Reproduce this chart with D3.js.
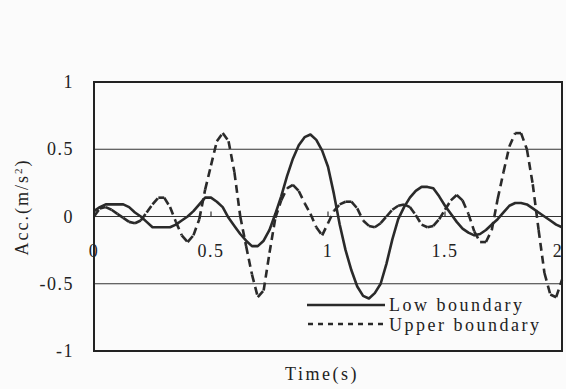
<!DOCTYPE html>
<html>
<head>
<meta charset="utf-8">
<script src="https://cdn.jsdelivr.net/npm/d3@7"></script>
<style>
  body { margin: 0; background: #fbfbfb; }
  text { font-family: "Liberation Serif", "Times New Roman", serif; fill: #222; }
</style>
</head>
<body>
<figure id="chart" style="margin:0"></figure>
<script>
// time grid (s)
var times = d3.range(0, 81).map(i => i * 0.025);

// low boundary (solid), every 0.025 s
var lowBoundary = [
    0.04, 0.07, 0.09, 0.09, 0.09, 0.09, 0.07, 0.03, 0.00, -0.04,
    -0.08, -0.08, -0.08, -0.08, -0.06, -0.03, 0.00, 0.04, 0.09, 0.14,
    0.14, 0.11, 0.07, -0.01, -0.07, -0.13, -0.18, -0.22, -0.22, -0.18,
    -0.10, 0.02, 0.15, 0.30, 0.43, 0.53, 0.59, 0.61, 0.57, 0.49,
    0.37, 0.17, -0.06, -0.25, -0.40, -0.52, -0.59, -0.61, -0.57, -0.50,
    -0.35, -0.17, -0.02, 0.07, 0.14, 0.19, 0.22, 0.22, 0.21, 0.15,
    0.08, 0.02, -0.04, -0.09, -0.12, -0.14, -0.13, -0.10, -0.06, -0.02,
    0.03, 0.08, 0.10, 0.10, 0.09, 0.06, 0.03, 0.00, -0.03, -0.06,
    -0.08
];

// upper boundary (dashed)
var upperBoundary = [
    0.00, 0.06, 0.07, 0.05, 0.02, -0.01, -0.04, -0.05, -0.03, 0.03,
    0.09, 0.14, 0.14, 0.07, -0.04, -0.14, -0.19, -0.14, -0.02, 0.20,
    0.38, 0.56, 0.62, 0.56, 0.33, 0.00, -0.22, -0.43, -0.60, -0.55,
    -0.27, -0.01, 0.12, 0.21, 0.235, 0.19, 0.10, 0.02, -0.08, -0.14,
    -0.05, 0.04, 0.09, 0.11, 0.11, 0.06, -0.03, -0.07, -0.08, -0.05,
    0.00, 0.05, 0.08, 0.09, 0.07, 0.01, -0.06, -0.08, -0.07, -0.02,
    0.05, 0.12, 0.16, 0.12, 0.02, -0.11, -0.19, -0.19, -0.10, 0.13,
    0.33, 0.52, 0.62, 0.62, 0.50, 0.24, -0.10, -0.42, -0.58, -0.60,
    -0.47
];

var xTicks = [0, 0.5, 1, 1.5, 2];
var yTicks = [1, 0.5, 0, -0.5, -1];
var gridValues = [0.5, 0, -0.5];

let dimensions = {
    width: 566,
    height: 389,
    margin: { top: 82, right: 4, bottom: 38, left: 94 }
};
dimensions.boundedWidth = 562 - dimensions.margin.left;
dimensions.boundedHeight = 351 - dimensions.margin.top;

var root = d3.select("figure#chart")
    .append("svg")
    .attr("width", dimensions.width)
    .attr("height", dimensions.height);

var svg = root.append("g")
    .attr("transform", `translate(${dimensions.margin.left},${dimensions.margin.top})`);

var xScale = d3.scaleLinear()
    .domain([0, 2])
    .range([0, dimensions.boundedWidth]);

var yScale = d3.scaleLinear()
    .domain([-1, 1])
    .range([dimensions.boundedHeight, 0]);

// grid lines
svg.selectAll("line.grid")
    .data(gridValues)
    .enter()
    .append("line")
    .attr("class", "grid")
    .attr("x1", 0)
    .attr("x2", dimensions.boundedWidth)
    .attr("y1", d => yScale(d))
    .attr("y2", d => yScale(d))
    .attr("stroke", "#333")
    .attr("stroke-width", 1.2);

// small ticks on the zero line
svg.selectAll("line.xtick")
    .data(xTicks.slice(1, -1))
    .enter()
    .append("line")
    .attr("x1", d => xScale(d))
    .attr("x2", d => xScale(d))
    .attr("y1", yScale(0))
    .attr("y2", yScale(0) - 5)
    .attr("stroke", "#333")
    .attr("stroke-width", 1.2);

// x tick labels, sitting under the zero line
svg.selectAll("text.xlab")
    .data(xTicks)
    .enter()
    .append("text")
    .attr("x", d => xScale(d) - (d === 2 ? 4 : 0))
    .attr("y", yScale(0) + 40)
    .attr("text-anchor", "middle")
    .attr("font-size", 18)
    .attr("letter-spacing", 1.5)
    .text(d => d);

// y tick labels
svg.selectAll("text.ylab")
    .data(yTicks)
    .enter()
    .append("text")
    .attr("x", -20)
    .attr("y", d => yScale(d) + 6)
    .attr("text-anchor", "end")
    .attr("font-size", 18)
    .attr("letter-spacing", 1.5)
    .text(d => d);

var lowData = times.map((t, i) => ({ t: t, v: lowBoundary[i] }));
var upperData = times.map((t, i) => ({ t: t, v: upperBoundary[i] }));

var line = d3.line()
    .x(d => xScale(d.t))
    .y(d => yScale(d.v));

// low boundary
svg.append("path")
    .datum(lowData)
    .attr("d", line)
    .attr("fill", "none")
    .attr("stroke", "#2a2a2a")
    .attr("stroke-width", 2.6)
    .attr("stroke-linejoin", "round");

// upper boundary: the dash restarts on every segment, like the old plot
svg.selectAll("path.upper")
    .data(d3.pairs(upperData))
    .enter()
    .append("path")
    .attr("class", "upper")
    .attr("d", d => line(d))
    .attr("fill", "none")
    .attr("stroke", "#2a2a2a")
    .attr("stroke-width", 2.6)
    .attr("stroke-dasharray", "8,5");

// frame
svg.append("rect")
    .attr("width", dimensions.boundedWidth)
    .attr("height", dimensions.boundedHeight)
    .attr("fill", "none")
    .attr("stroke", "#222")
    .attr("stroke-width", 2);

// legend
var legend = root.append("g");
legend.append("line")
    .attr("x1", 307).attr("x2", 385)
    .attr("y1", 305).attr("y2", 305)
    .attr("stroke", "#2a2a2a").attr("stroke-width", 2.6);
legend.append("line")
    .attr("x1", 308).attr("x2", 386)
    .attr("y1", 324).attr("y2", 324)
    .attr("stroke", "#2a2a2a").attr("stroke-width", 2.6)
    .attr("stroke-dasharray", "5,5");
legend.append("text")
    .attr("x", 389).attr("y", 311)
    .attr("font-size", 18).attr("letter-spacing", 2.5)
    .text("Low boundary");
legend.append("text")
    .attr("x", 389).attr("y", 331)
    .attr("font-size", 18).attr("letter-spacing", 2.5)
    .text("Upper boundary");

// axis titles
root.append("text")
    .attr("x", 322)
    .attr("y", 380)
    .attr("text-anchor", "middle")
    .attr("font-size", 18)
    .attr("letter-spacing", 2.5)
    .text("Time(s)");

root.append("text")
    .attr("transform", "translate(28,207) rotate(-90)")
    .attr("text-anchor", "middle")
    .attr("font-size", 18)
    .attr("letter-spacing", 2)
    .html("Acc.(m/s<tspan baseline-shift='super' font-size='11'>2</tspan>)");
</script>
</body>
</html>
